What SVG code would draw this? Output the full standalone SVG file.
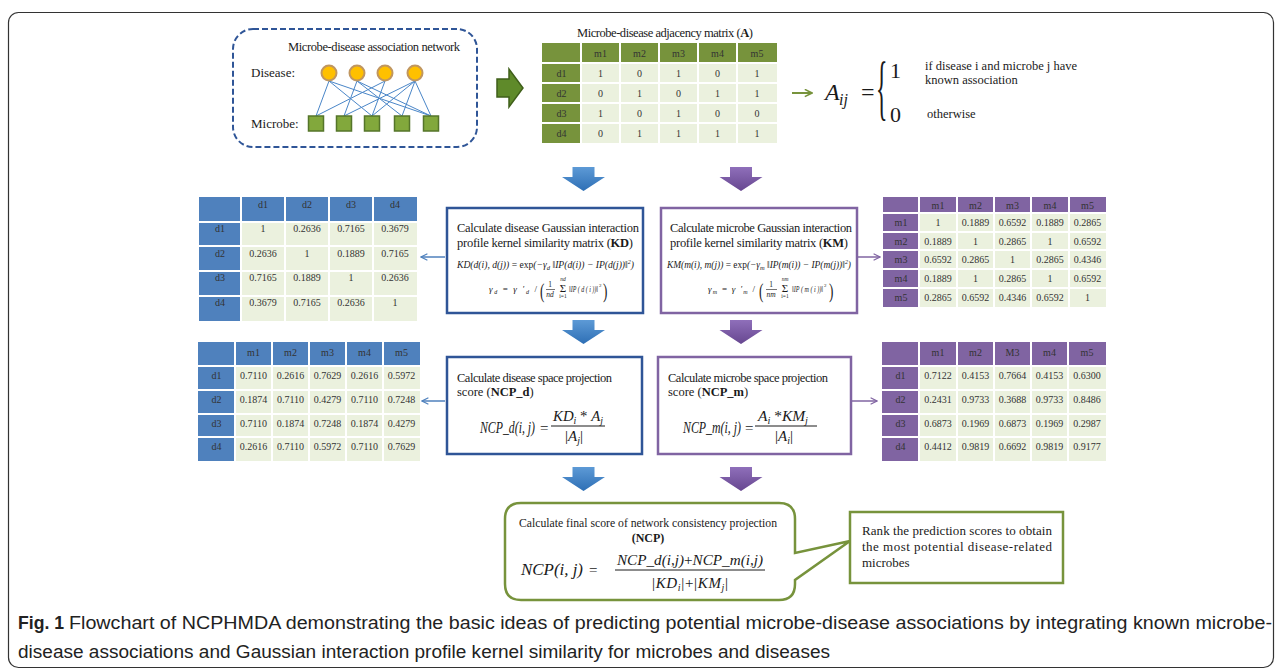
<svg xmlns="http://www.w3.org/2000/svg" width="1282" height="672" viewBox="0 0 1282 672">
<style>
.tx{font-family:"Liberation Serif","Times New Roman",serif;fill:#1a1a1a}
.c{font-family:"Liberation Serif","Times New Roman",serif;font-size:10px;text-anchor:middle;fill:#333}
.mi{font-family:"Liberation Serif","Times New Roman",serif;font-style:italic;fill:#1a1a1a}
.grid{stroke:#fff;stroke-width:2}
.cellbg{fill:#ebf1de}
.hg{fill:#77933c}
.hb{fill:#4f81bd}
.hp{fill:#8064a2}
.cap{font-family:"Liberation Sans","Arial",sans-serif;font-size:17.5px;fill:#222}
.edge{stroke:#4a86c8;stroke-width:1;fill:none}
</style>
<defs>
<linearGradient id="gb" x1="0" y1="0" x2="0" y2="1"><stop offset="0" stop-color="#5d9ad6"/><stop offset="1" stop-color="#2e6fb5"/></linearGradient>
<linearGradient id="gp" x1="0" y1="0" x2="0" y2="1"><stop offset="0" stop-color="#8f6fba"/><stop offset="1" stop-color="#674790"/></linearGradient>
<path id="darr" d="M-11,0 H11 V10 H21.5 L0,24 L-21.5,10 H-11 Z"/>
<marker id="mb" viewBox="0 0 10 10" refX="9" refY="5" markerWidth="8" markerHeight="8" markerUnits="userSpaceOnUse" orient="auto"><path d="M1,1 L9,5 L1,9" fill="none" stroke="#4f81bd" stroke-width="1.5"/></marker>
<marker id="mp" viewBox="0 0 10 10" refX="9" refY="5" markerWidth="8" markerHeight="8" markerUnits="userSpaceOnUse" orient="auto"><path d="M1,1 L9,5 L1,9" fill="none" stroke="#8064a2" stroke-width="1.5"/></marker>
<marker id="mg" viewBox="0 0 10 10" refX="9" refY="5" markerWidth="9" markerHeight="9" markerUnits="userSpaceOnUse" orient="auto"><path d="M1,1 L9,5 L1,9" fill="none" stroke="#77933c" stroke-width="1.8"/></marker>
</defs>

<rect x="8.5" y="12.5" width="1265" height="655" rx="10" fill="#fff" stroke="#333" stroke-width="1.2"/>

<!-- Network -->
<g id="network">
<rect x="233" y="29" width="244" height="118" rx="20" fill="none" stroke="#2f5597" stroke-width="2" stroke-dasharray="6,3"/>
<text class="tx" x="288" y="51" font-size="12.5" textLength="172" lengthAdjust="spacing">Microbe-disease association network</text>
<text class="tx" x="251" y="77" font-size="13">Disease:</text>
<text class="tx" x="251" y="128" font-size="13">Microbe:</text>
<g class="edge">
<line x1="329" y1="81" x2="316" y2="116"/><line x1="329" y1="81" x2="372" y2="116"/><line x1="329" y1="81" x2="431" y2="116"/>
<line x1="357" y1="81" x2="344" y2="116"/><line x1="357" y1="81" x2="402" y2="116"/><line x1="357" y1="81" x2="431" y2="116"/>
<line x1="385" y1="81" x2="316" y2="116"/><line x1="385" y1="81" x2="372" y2="116"/>
<line x1="415" y1="81" x2="344" y2="116"/><line x1="415" y1="81" x2="372" y2="116"/><line x1="415" y1="81" x2="402" y2="116"/><line x1="415" y1="81" x2="431" y2="116"/>
</g>
<g fill="#ffc000" stroke="#c09660" stroke-width="2">
<circle cx="329" cy="73" r="7.5"/><circle cx="357" cy="73" r="7.5"/><circle cx="385" cy="73" r="7.5"/><circle cx="415" cy="73" r="7.5"/>
</g>
<g fill="#82a83c" stroke="#55752a" stroke-width="1.5">
<rect x="308.5" y="116" width="15" height="15"/><rect x="336.5" y="116" width="15" height="15"/><rect x="364.5" y="116" width="15" height="15"/><rect x="394.5" y="116" width="15" height="15"/><rect x="423.5" y="116" width="15" height="15"/>
</g>
</g>

<g id="arrow-green-block">
<path d="M497,79 H509 V69 L523,88 L509,107 V97 H497 Z" fill="#5f8a2a" stroke="#3f5f1a" stroke-width="1.5"/>
</g>

<!-- Adjacency matrix -->
<g id="matrixA">
<text class="tx" x="577" y="37" font-size="12.5" textLength="176" lengthAdjust="spacing">Microbe-disease adjacency matrix (<tspan font-weight="bold">A</tspan>)</text>
<rect class="cellbg" x="542" y="43" width="235" height="100"/>
<rect class="hg" x="542" y="43" width="235" height="20"/>
<rect class="hg" x="542" y="43" width="39" height="100"/>
<g class="grid">
<line x1="581" y1="43" x2="581" y2="143"/><line x1="620" y1="43" x2="620" y2="143"/><line x1="659" y1="43" x2="659" y2="143"/><line x1="698" y1="43" x2="698" y2="143"/><line x1="737" y1="43" x2="737" y2="143"/>
<line x1="542" y1="63" x2="777" y2="63"/><line x1="542" y1="83" x2="777" y2="83"/><line x1="542" y1="103" x2="777" y2="103"/><line x1="542" y1="123" x2="777" y2="123"/>
</g>
<g class="c">
<text x="600.5" y="56.5">m1</text><text x="639.5" y="56.5">m2</text><text x="678.5" y="56.5">m3</text><text x="717.5" y="56.5">m4</text><text x="757" y="56.5">m5</text>
<text x="561.5" y="76.5">d1</text><text x="561.5" y="96.5">d2</text><text x="561.5" y="116.5">d3</text><text x="561.5" y="136.5">d4</text>
<text x="600.5" y="76.5">1</text><text x="639.5" y="76.5">0</text><text x="678.5" y="76.5">1</text><text x="717.5" y="76.5">0</text><text x="757" y="76.5">1</text>
<text x="600.5" y="96.5">0</text><text x="639.5" y="96.5">1</text><text x="678.5" y="96.5">0</text><text x="717.5" y="96.5">1</text><text x="757" y="96.5">1</text>
<text x="600.5" y="116.5">1</text><text x="639.5" y="116.5">0</text><text x="678.5" y="116.5">1</text><text x="717.5" y="116.5">0</text><text x="757" y="116.5">0</text>
<text x="600.5" y="136.5">0</text><text x="639.5" y="136.5">1</text><text x="678.5" y="136.5">1</text><text x="717.5" y="136.5">1</text><text x="757" y="136.5">1</text>
</g>
</g>

<!-- Aij definition -->
<g id="aij-def">
<text class="mi" x="825" y="100" font-size="24">A</text>
<text class="mi" x="839" y="105" font-size="16">ij</text>
<text class="tx" x="861" y="100" font-size="24">=</text>
<text class="tx" x="0" y="0" font-size="72" transform="translate(876,111) scale(0.33,1)">{</text>
<text class="tx" x="890" y="78" font-size="22">1</text>
<text class="tx" x="890" y="122" font-size="22">0</text>
<text class="tx" x="925" y="70" font-size="12.5">if disease i and microbe j have</text>
<text class="tx" x="925" y="84" font-size="12.5">known association</text>
<text class="tx" x="927" y="118" font-size="12.5">otherwise</text>
</g>

<!-- KD matrix -->
<g id="matrixKD">
<rect class="cellbg" x="199" y="197" width="218" height="124"/>
<rect class="hb" x="199" y="197" width="218" height="25"/>
<rect class="hb" x="199" y="197" width="42" height="124"/>
<g class="grid">
<line x1="241" y1="197" x2="241" y2="321"/><line x1="285" y1="197" x2="285" y2="321"/><line x1="329" y1="197" x2="329" y2="321"/><line x1="373" y1="197" x2="373" y2="321"/>
<line x1="199" y1="222" x2="417" y2="222"/><line x1="199" y1="246" x2="417" y2="246"/><line x1="199" y1="271" x2="417" y2="271"/><line x1="199" y1="296" x2="417" y2="296"/>
</g>
<g class="c">
<text x="263" y="208">d1</text><text x="307" y="208">d2</text><text x="351" y="208">d3</text><text x="395" y="208">d4</text>
<text x="220" y="232">d1</text><text x="220" y="257">d2</text><text x="220" y="281">d3</text><text x="220" y="306">d4</text>
<text x="263" y="232">1</text><text x="307" y="232">0.2636</text><text x="351" y="232">0.7165</text><text x="395" y="232">0.3679</text>
<text x="263" y="257">0.2636</text><text x="307" y="257">1</text><text x="351" y="257">0.1889</text><text x="395" y="257">0.7165</text>
<text x="263" y="281">0.7165</text><text x="307" y="281">0.1889</text><text x="351" y="281">1</text><text x="395" y="281">0.2636</text>
<text x="263" y="306">0.3679</text><text x="307" y="306">0.7165</text><text x="351" y="306">0.2636</text><text x="395" y="306">1</text>
</g>
</g>

<!-- KM matrix -->
<g id="matrixKM">
<rect class="cellbg" x="883" y="197" width="223" height="110"/>
<rect class="hp" x="883" y="197" width="223" height="16"/>
<rect class="hp" x="883" y="197" width="36" height="110"/>
<g class="grid">
<line x1="919" y1="197" x2="919" y2="307"/><line x1="957" y1="197" x2="957" y2="307"/><line x1="994" y1="197" x2="994" y2="307"/><line x1="1031" y1="197" x2="1031" y2="307"/><line x1="1069" y1="197" x2="1069" y2="307"/>
<line x1="883" y1="213" x2="1106" y2="213"/><line x1="883" y1="232" x2="1106" y2="232"/><line x1="883" y1="250" x2="1106" y2="250"/><line x1="883" y1="269" x2="1106" y2="269"/><line x1="883" y1="288" x2="1106" y2="288"/>
</g>
<g class="c">
<text x="938" y="208.5">m1</text><text x="975.5" y="208.5">m2</text><text x="1012.5" y="208.5">m3</text><text x="1050" y="208.5">m4</text><text x="1087.5" y="208.5">m5</text>
<text x="901" y="226">m1</text><text x="901" y="244.5">m2</text><text x="901" y="263">m3</text><text x="901" y="282">m4</text><text x="901" y="301">m5</text>
<text x="938" y="226">1</text><text x="975.5" y="226">0.1889</text><text x="1012.5" y="226">0.6592</text><text x="1050" y="226">0.1889</text><text x="1087.5" y="226">0.2865</text>
<text x="938" y="244.5">0.1889</text><text x="975.5" y="244.5">1</text><text x="1012.5" y="244.5">0.2865</text><text x="1050" y="244.5">1</text><text x="1087.5" y="244.5">0.6592</text>
<text x="938" y="263">0.6592</text><text x="975.5" y="263">0.2865</text><text x="1012.5" y="263">1</text><text x="1050" y="263">0.2865</text><text x="1087.5" y="263">0.4346</text>
<text x="938" y="282">0.1889</text><text x="975.5" y="282">1</text><text x="1012.5" y="282">0.2865</text><text x="1050" y="282">1</text><text x="1087.5" y="282">0.6592</text>
<text x="938" y="301">0.2865</text><text x="975.5" y="301">0.6592</text><text x="1012.5" y="301">0.4346</text><text x="1050" y="301">0.6592</text><text x="1087.5" y="301">1</text>
</g>
</g>

<!-- NCP_d matrix -->
<g id="matrixNCPd">
<rect class="cellbg" x="198" y="342" width="222" height="119"/>
<rect class="hb" x="198" y="342" width="222" height="24"/>
<rect class="hb" x="198" y="342" width="37" height="119"/>
<g class="grid">
<line x1="235" y1="342" x2="235" y2="461"/><line x1="272" y1="342" x2="272" y2="461"/><line x1="309" y1="342" x2="309" y2="461"/><line x1="346" y1="342" x2="346" y2="461"/><line x1="383" y1="342" x2="383" y2="461"/>
<line x1="198" y1="366" x2="420" y2="366"/><line x1="198" y1="390" x2="420" y2="390"/><line x1="198" y1="414" x2="420" y2="414"/><line x1="198" y1="437" x2="420" y2="437"/>
</g>
<g class="c">
<text x="253.5" y="356">m1</text><text x="290.5" y="356">m2</text><text x="327.5" y="356">m3</text><text x="364.5" y="356">m4</text><text x="401.5" y="356">m5</text>
<text x="216.5" y="379">d1</text><text x="216.5" y="403">d2</text><text x="216.5" y="426.5">d3</text><text x="216.5" y="450">d4</text>
<text x="253.5" y="379">0.7110</text><text x="290.5" y="379">0.2616</text><text x="327.5" y="379">0.7629</text><text x="364.5" y="379">0.2616</text><text x="401.5" y="379">0.5972</text>
<text x="253.5" y="403">0.1874</text><text x="290.5" y="403">0.7110</text><text x="327.5" y="403">0.4279</text><text x="364.5" y="403">0.7110</text><text x="401.5" y="403">0.7248</text>
<text x="253.5" y="426.5">0.7110</text><text x="290.5" y="426.5">0.1874</text><text x="327.5" y="426.5">0.7248</text><text x="364.5" y="426.5">0.1874</text><text x="401.5" y="426.5">0.4279</text>
<text x="253.5" y="450">0.2616</text><text x="290.5" y="450">0.7110</text><text x="327.5" y="450">0.5972</text><text x="364.5" y="450">0.7110</text><text x="401.5" y="450">0.7629</text>
</g>
</g>

<!-- NCP_m matrix -->
<g id="matrixNCPm">
<rect class="cellbg" x="882" y="342" width="224" height="119"/>
<rect class="hp" x="882" y="342" width="224" height="24"/>
<rect class="hp" x="882" y="342" width="37" height="119"/>
<g class="grid">
<line x1="919" y1="342" x2="919" y2="461"/><line x1="957" y1="342" x2="957" y2="461"/><line x1="994" y1="342" x2="994" y2="461"/><line x1="1031" y1="342" x2="1031" y2="461"/><line x1="1068" y1="342" x2="1068" y2="461"/>
<line x1="882" y1="366" x2="1106" y2="366"/><line x1="882" y1="390" x2="1106" y2="390"/><line x1="882" y1="414" x2="1106" y2="414"/><line x1="882" y1="437" x2="1106" y2="437"/>
</g>
<g class="c">
<text x="938" y="356">m1</text><text x="975.5" y="356">m2</text><text x="1012.5" y="356">M3</text><text x="1049.5" y="356">m4</text><text x="1087" y="356">m5</text>
<text x="900.5" y="379">d1</text><text x="900.5" y="403">d2</text><text x="900.5" y="426.5">d3</text><text x="900.5" y="450">d4</text>
<text x="938" y="379">0.7122</text><text x="975.5" y="379">0.4153</text><text x="1012.5" y="379">0.7664</text><text x="1049.5" y="379">0.4153</text><text x="1087" y="379">0.6300</text>
<text x="938" y="403">0.2431</text><text x="975.5" y="403">0.9733</text><text x="1012.5" y="403">0.3688</text><text x="1049.5" y="403">0.9733</text><text x="1087" y="403">0.8486</text>
<text x="938" y="426.5">0.6873</text><text x="975.5" y="426.5">0.1969</text><text x="1012.5" y="426.5">0.6873</text><text x="1049.5" y="426.5">0.1969</text><text x="1087" y="426.5">0.2987</text>
<text x="938" y="450">0.4412</text><text x="975.5" y="450">0.9819</text><text x="1012.5" y="450">0.6692</text><text x="1049.5" y="450">0.9819</text><text x="1087" y="450">0.9177</text>
</g>
</g>

<!-- KD box -->
<g id="boxKD">
<rect x="447" y="208" width="196" height="105" fill="#fff" stroke="#2f5597" stroke-width="2.5"/>
<text class="tx" x="457" y="232" font-size="12.5" textLength="182" lengthAdjust="spacing">Calculate disease Gaussian interaction</text>
<text class="tx" x="457" y="247" font-size="12.5" textLength="176" lengthAdjust="spacing">profile kernel similarity matrix (<tspan font-weight="bold">KD</tspan>)</text>
<text class="mi" x="457" y="268" font-size="9.5" textLength="177" lengthAdjust="spacingAndGlyphs">KD(d(i), d(j)) <tspan font-style="normal">= exp</tspan>(−γ<tspan font-size="6.5" dy="2">d</tspan><tspan dy="-2"> ‖IP(d(i)) − IP(d(j))‖</tspan><tspan font-size="6" dy="-4">2</tspan><tspan dy="4">)</tspan></text>
<text class="mi" x="489" y="292" font-size="9" textLength="48" lengthAdjust="spacing">γ<tspan font-size="6" dy="2">d</tspan><tspan dy="-2" font-style="normal"> = </tspan>γ ′<tspan font-size="6" dy="2">d</tspan><tspan dy="-2" font-style="normal"> /</tspan></text>
<text class="tx" x="0" y="0" font-size="22" transform="translate(540,298) scale(0.6,1)">(</text>
<text class="tx" x="550" y="287" font-size="7.5" text-anchor="middle">1</text>
<line x1="546" y1="289.5" x2="555" y2="289.5" stroke="#1a1a1a" stroke-width="0.6"/>
<text class="mi" x="550" y="297" font-size="7.5" text-anchor="middle">nd</text>
<text class="mi" x="563" y="281" font-size="5.5" text-anchor="middle">nd</text>
<text class="tx" x="563" y="292" font-size="11" text-anchor="middle">Σ</text>
<text class="tx" x="563" y="298" font-size="5.5" text-anchor="middle">i=1</text>
<text class="mi" x="569" y="292" font-size="8.5" textLength="29" lengthAdjust="spacingAndGlyphs">‖IP ( d ( i ))‖</text>
<text class="tx" x="599" y="286.5" font-size="5">2</text>
<text class="tx" x="0" y="0" font-size="22" transform="translate(603,298) scale(0.6,1)">)</text>
</g>

<!-- KM box -->
<g id="boxKM">
<rect x="661" y="208" width="196" height="105" fill="#fff" stroke="#8064a2" stroke-width="2.5"/>
<text class="tx" x="670" y="232" font-size="12.5" textLength="182" lengthAdjust="spacing">Calculate microbe Gaussian interaction</text>
<text class="tx" x="670" y="247" font-size="12.5" textLength="178" lengthAdjust="spacing">profile kernel similarity matrix (<tspan font-weight="bold">KM</tspan>)</text>
<text class="mi" x="667" y="268" font-size="9.5" textLength="184" lengthAdjust="spacingAndGlyphs">KM(m(i), m(j)) <tspan font-style="normal">= exp</tspan>(−γ<tspan font-size="6.5" dy="2">m</tspan><tspan dy="-2"> ‖IP(m(i)) − IP(m(j))‖</tspan><tspan font-size="6" dy="-4">2</tspan><tspan dy="4">)</tspan></text>
<text class="mi" x="708" y="292" font-size="9" textLength="47" lengthAdjust="spacing">γ<tspan font-size="6" dy="2">m</tspan><tspan dy="-2" font-style="normal"> = </tspan>γ ′<tspan font-size="6" dy="2">m</tspan><tspan dy="-2" font-style="normal"> /</tspan></text>
<text class="tx" x="0" y="0" font-size="22" transform="translate(759,298) scale(0.6,1)">(</text>
<text class="tx" x="771" y="287" font-size="7.5" text-anchor="middle">1</text>
<line x1="766" y1="289.5" x2="777" y2="289.5" stroke="#1a1a1a" stroke-width="0.6"/>
<text class="mi" x="771" y="297" font-size="7.5" text-anchor="middle">nm</text>
<text class="mi" x="785" y="281" font-size="5.5" text-anchor="middle">nm</text>
<text class="tx" x="785" y="292" font-size="11" text-anchor="middle">Σ</text>
<text class="tx" x="785" y="298" font-size="5.5" text-anchor="middle">i=1</text>
<text class="mi" x="792" y="292" font-size="8.5" textLength="31" lengthAdjust="spacingAndGlyphs">‖IP ( m ( i ))‖</text>
<text class="tx" x="824" y="286.5" font-size="5">2</text>
<text class="tx" x="0" y="0" font-size="22" transform="translate(829,298) scale(0.6,1)">)</text>
</g>

<!-- NCP_d box -->
<g id="boxNCPd">
<rect x="447" y="357" width="195" height="97" fill="#fff" stroke="#2f5597" stroke-width="2.5"/>
<text class="tx" x="457" y="382" font-size="12.5" textLength="155" lengthAdjust="spacing">Calculate disease space projection</text>
<text class="tx" x="457" y="396" font-size="12.5">score (<tspan font-weight="bold">NCP_d</tspan>)</text>
<text class="mi" x="480" y="433" font-size="16" textLength="55" lengthAdjust="spacingAndGlyphs">NCP_d(i, j)</text>
<text class="tx" x="540" y="433" font-size="15">=</text>
<text class="mi" x="553" y="421" font-size="15" textLength="50" lengthAdjust="spacingAndGlyphs">KD<tspan font-size="10" dy="3">i</tspan><tspan dy="-3" font-style="normal"> * </tspan>A<tspan font-size="10" dy="3">j</tspan></text>
<line x1="551" y1="426" x2="605" y2="426" stroke="#1a1a1a" stroke-width="1"/>
<text class="mi" x="565" y="441" font-size="15"><tspan font-style="normal">|</tspan>A<tspan font-size="10" dy="3">j</tspan><tspan dy="-3" font-style="normal">|</tspan></text>
</g>

<!-- NCP_m box -->
<g id="boxNCPm">
<rect x="658" y="357" width="193" height="97" fill="#fff" stroke="#8064a2" stroke-width="2.5"/>
<text class="tx" x="668" y="382" font-size="12.5" textLength="160" lengthAdjust="spacing">Calculate microbe space projection</text>
<text class="tx" x="668" y="396" font-size="12.5">score (<tspan font-weight="bold">NCP_m</tspan>)</text>
<text class="mi" x="683" y="433" font-size="16" textLength="58" lengthAdjust="spacingAndGlyphs">NCP_m(i, j)</text>
<text class="tx" x="745" y="433" font-size="15">=</text>
<text class="mi" x="758" y="421" font-size="15" textLength="50" lengthAdjust="spacingAndGlyphs">A<tspan font-size="10" dy="3">i</tspan><tspan dy="-3" font-style="normal"> *</tspan>KM<tspan font-size="10" dy="3">j</tspan></text>
<line x1="755" y1="426" x2="817" y2="426" stroke="#1a1a1a" stroke-width="1"/>
<text class="mi" x="775" y="441" font-size="15"><tspan font-style="normal">|</tspan>A<tspan font-size="10" dy="3">i</tspan><tspan dy="-3" font-style="normal">|</tspan></text>
</g>

<!-- Final NCP callout -->
<g id="boxNCP">
<path d="M521,503 H779 Q795,503 795,519 V553 L850,541 L795,580 V584 Q795,600 779,600 H521 Q505,600 505,584 V519 Q505,503 521,503 Z" fill="#fff" stroke="#77933c" stroke-width="2.5"/>
<text class="tx" x="519" y="527" font-size="12.5" textLength="258" lengthAdjust="spacingAndGlyphs">Calculate final score of network consistency projection</text>
<text class="tx" x="648" y="542" font-size="12" text-anchor="middle" font-weight="bold">(NCP)</text>
<text class="mi" x="521" y="575" font-size="16" textLength="62" lengthAdjust="spacingAndGlyphs">NCP(i, j)</text>
<text class="tx" x="589" y="575" font-size="15">=</text>
<text class="mi" x="617" y="565" font-size="15" textLength="146" lengthAdjust="spacingAndGlyphs">NCP_d(i,j)<tspan font-style="normal">+</tspan>NCP_m(i,j)</text>
<line x1="615" y1="570" x2="765" y2="570" stroke="#1a1a1a" stroke-width="1"/>
<text class="mi" x="652" y="588" font-size="15" textLength="76" lengthAdjust="spacing"><tspan font-style="normal">|</tspan>KD<tspan font-size="10" dy="3">i</tspan><tspan dy="-3" font-style="normal">|+|</tspan>KM<tspan font-size="10" dy="3">j</tspan><tspan dy="-3" font-style="normal">|</tspan></text>
</g>

<!-- Rank box -->
<g id="boxRank">
<rect x="850" y="512" width="213" height="71" fill="#fff" stroke="#77933c" stroke-width="2.5"/>
<text class="tx" x="862" y="535" font-size="13" textLength="190" lengthAdjust="spacing">Rank the prediction scores to obtain</text>
<text class="tx" x="862" y="551" font-size="13" textLength="190" lengthAdjust="spacing">the most potential disease-related</text>
<text class="tx" x="862" y="567" font-size="13">microbes</text>
</g>

<!-- Connectors -->
<g id="connectors">
<use href="#darr" x="583.5" y="167" fill="url(#gb)"/>
<use href="#darr" x="741" y="167" fill="url(#gp)"/>
<use href="#darr" x="583.5" y="320" fill="url(#gb)"/>
<use href="#darr" x="741" y="320" fill="url(#gp)"/>
<use href="#darr" x="583.5" y="467" fill="url(#gb)"/>
<use href="#darr" x="741" y="467" fill="url(#gp)"/>
<line x1="445" y1="257" x2="421" y2="257" stroke="#4f81bd" stroke-width="1.5" marker-end="url(#mb)"/>
<line x1="858" y1="257" x2="880" y2="257" stroke="#8064a2" stroke-width="1.5" marker-end="url(#mp)"/>
<line x1="445" y1="401" x2="422" y2="401" stroke="#4f81bd" stroke-width="1.5" marker-end="url(#mb)"/>
<line x1="852" y1="401" x2="877" y2="401" stroke="#8064a2" stroke-width="1.5" marker-end="url(#mp)"/>
<line x1="792" y1="93" x2="812" y2="93" stroke="#77933c" stroke-width="2" marker-end="url(#mg)"/>
</g>

<!-- Caption -->
<g id="caption">
<text class="cap" x="18" y="629" font-weight="bold" textLength="46" lengthAdjust="spacingAndGlyphs">Fig. 1</text>
<text class="cap" x="69" y="629" textLength="1203" lengthAdjust="spacingAndGlyphs">Flowchart of NCPHMDA demonstrating the basic ideas of predicting potential microbe-disease associations by integrating known microbe-</text>
<text class="cap" x="18" y="658" textLength="812" lengthAdjust="spacingAndGlyphs">disease associations and Gaussian interaction profile kernel similarity for microbes and diseases</text>
</g>
</svg>
